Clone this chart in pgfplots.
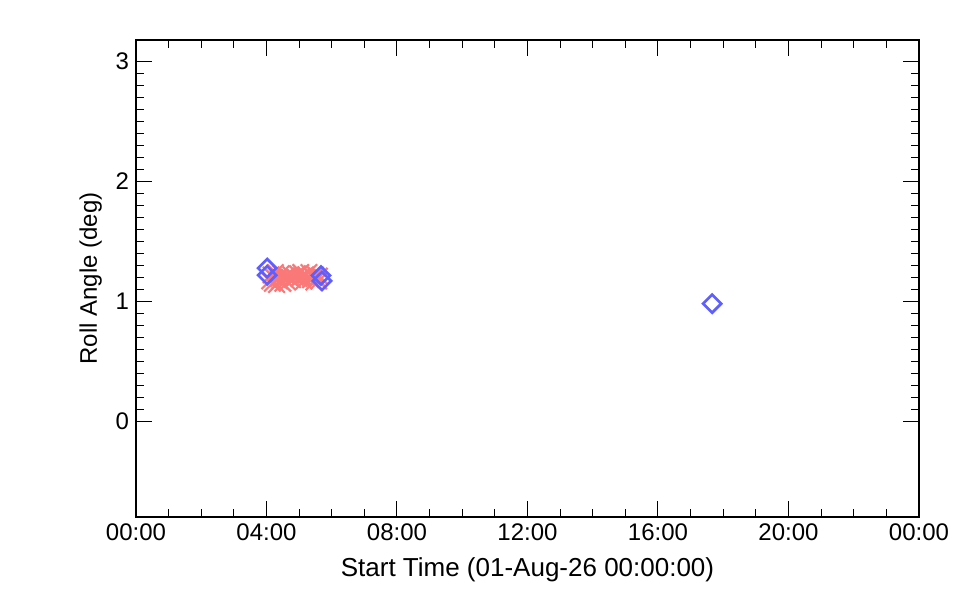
\documentclass[border=0pt]{standalone}
\usepackage{fontspec}
\setmainfont{Liberation Sans}
\usepackage{pgfplots}
\pgfplotsset{compat=1.18}
\definecolor{salmon}{RGB}{250,120,120}
\definecolor{idlblue}{RGB}{95,95,255}
\begin{document}
\begin{tikzpicture}[x=1pt,y=1pt]
\path[use as bounding box] (0,0) rectangle (480,300);
\begin{axis}[at={(68pt,41.5pt)}, anchor=south west,
  scale only axis, width=391.5pt, height=238.5pt,
  xmin=0, xmax=24, ymin=-0.8, ymax=3.18,
  xtick={0,4,...,24},
  xticklabels={00:00,04:00,08:00,12:00,16:00,20:00,00:00},
  minor x tick num=3,
  ytick={0,1,2,3}, minor y tick num=9,
  tick align=inside, tick pos=both,
  major tick length=8pt, minor tick length=4pt,
  tick style={black, line width=0.5pt},
  axis line style={line width=0.75pt},
  tick label style={font=\fontsize{12}{14}\selectfont},
  /pgf/number format/assume math mode=true,
  xlabel={Start Time (01-Aug-26 00:00:00)},
  ylabel={Roll Angle (deg)},
  label style={font=\fontsize{12}{14}\selectfont},
  xlabel style={font=\fontsize{13}{15}\selectfont, yshift=-1.5pt},
  ]
\addplot[only marks, mark=x, color=salmon, mark size=5.8pt, line width=1.1pt] coordinates {
 (4.10,1.17) (4.14,1.22) (4.18,1.15) (4.22,1.20) (4.27,1.24) (4.31,1.14)
 (4.36,1.19) (4.40,1.17) (4.45,1.23) (4.50,1.15) (4.55,1.19) (4.60,1.21)
 (4.65,1.16) (4.70,1.20) (4.75,1.22) (4.80,1.18) (4.88,1.20) (4.95,1.23)
 (5.00,1.19) (5.05,1.24) (5.10,1.21) (5.15,1.17) (5.20,1.22) (5.25,1.20)
 (5.30,1.24) (5.35,1.18) (5.40,1.21) (5.45,1.16) (5.50,1.22) (5.55,1.19)
 (5.60,1.17) (5.62,1.21)
};
\addplot[only marks, mark=square, color=idlblue, mark size=3.2pt, line width=1.35pt,
  mark options={rotate=45}] coordinates {
 (4.02,1.277) (4.02,1.218) (5.67,1.215) (5.70,1.17) (17.66,0.98)
};
\end{axis}
\end{tikzpicture}
\end{document}
